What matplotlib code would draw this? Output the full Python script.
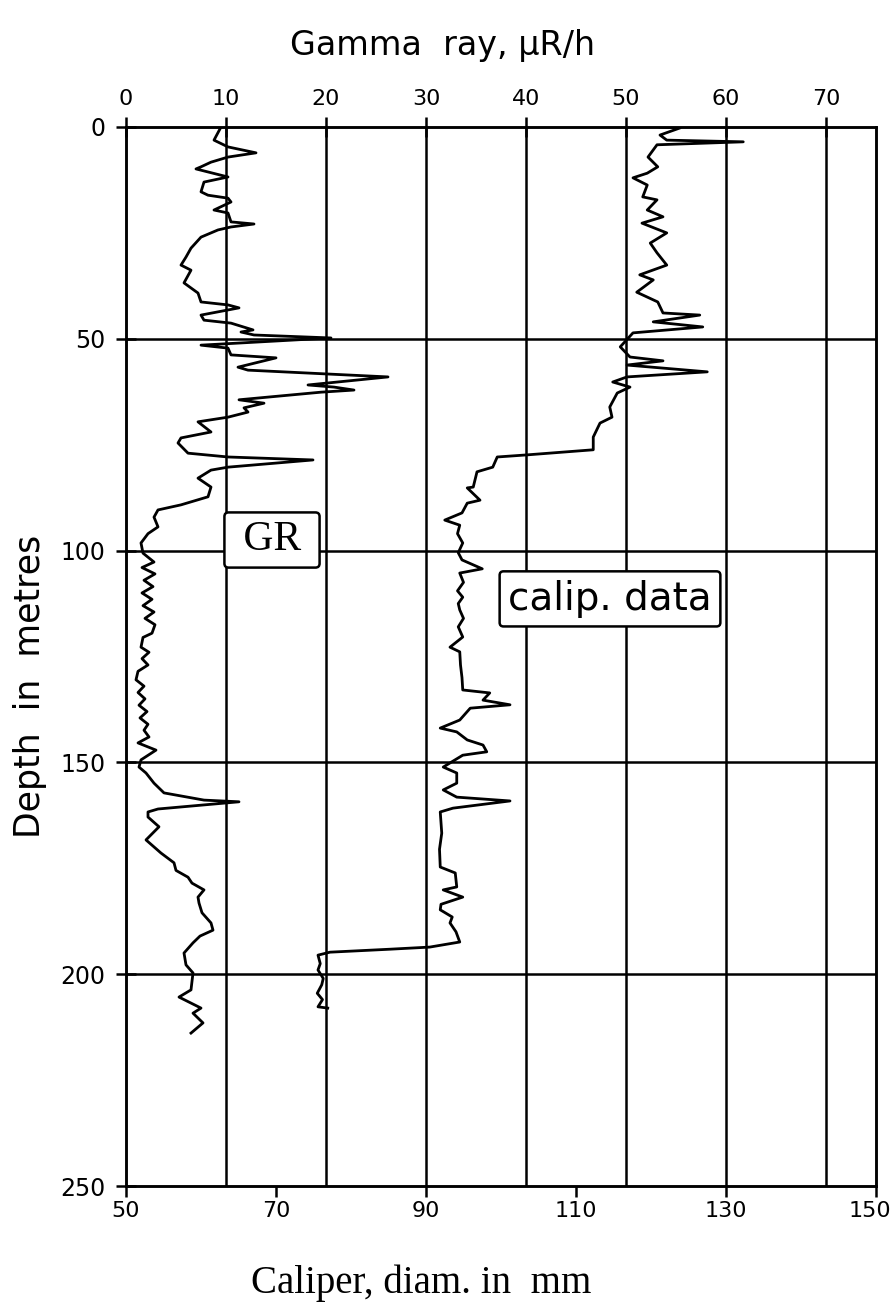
import numpy as np
import matplotlib
matplotlib.use("Agg")
import matplotlib.pyplot as plt
from matplotlib.transforms import ScaledTranslation

# gamma ray log (top axis, uR/h) against depth (m)
gr_depth = [0.0, 3.1, 4.7, 6.1, 7.1, 8.3, 9.4, 9.9, 11.8, 13.0, 15.3, 16.1, 16.8, 17.7,
            19.6, 20.3, 22.4, 22.9, 23.6, 24.3, 26.0, 28.6, 30.7, 32.6, 33.8, 36.8, 38.0,
            39.2, 41.3, 42.0, 42.7, 44.4, 45.6, 46.3, 47.9, 48.4, 49.1, 49.8, 51.5, 52.2,
            53.8, 54.5, 56.7, 57.4, 59.0, 60.9, 61.4, 62.1, 62.6, 64.4, 65.2, 66.3, 67.3,
            68.5, 69.6, 72.0, 73.4, 74.6, 77.0, 77.9, 78.6, 80.3, 81.0, 82.9, 85.0, 87.3,
            89.2, 90.4, 92.1, 94.4, 96.0, 98.2, 100.6, 102.7, 104.0, 105.5, 107.0, 108.5,
            110.0, 111.5, 113.0, 114.5, 116.0, 117.5, 119.5, 120.5, 122.8, 124.0, 125.5,
            127.0, 128.5, 130.5, 132.0, 133.5, 135.0, 136.5, 138.0, 139.5, 141.0, 142.4,
            144.0, 145.4, 147.1, 149.4, 151.1, 152.5, 154.9, 157.2, 158.9, 159.3, 161.0,
            161.7, 162.9, 165.2, 168.3, 171.4, 173.7, 175.5, 177.1, 178.5, 180.1, 181.8,
            183.2, 185.5, 187.9, 189.6, 191.0, 192.6, 195.0, 197.8, 199.7, 203.7, 205.4,
            208.0, 209.2, 211.5, 213.9]
gr_value = [9.5, 8.8, 10.2, 13.0, 10.2, 8.5, 7.5, 7.0, 10.2, 7.8, 7.5, 8.2, 10.2, 10.5,
            8.8, 10.2, 10.5, 12.8, 10.5, 9.2, 7.5, 6.5, 6.0, 5.5, 6.5, 5.8, 6.5,
            7.2, 7.5, 10.2, 11.3, 7.5, 7.8, 10.5, 12.7, 11.5, 12.8, 20.5, 7.5, 10.2,
            10.5, 15.0, 11.2, 12.2, 26.2, 18.2, 20.8, 22.8, 19.5, 11.3, 13.8, 11.8, 12.2,
            10.2, 7.2, 8.5, 5.5, 5.2, 6.2, 10.2, 18.7, 10.2, 8.5, 7.2, 8.5, 8.2,
            5.5, 3.2, 2.8, 3.2, 2.2, 1.5, 1.7, 2.8, 1.6, 2.9, 1.8, 2.7,
            1.6, 2.6, 1.7, 2.8, 1.9, 2.9, 2.6, 1.7, 1.5, 2.3, 1.6,
            2.2, 1.2, 1.0, 1.8, 1.2, 1.9, 1.3, 2.1, 1.4, 2.2, 1.8,
            2.3, 1.2, 3.0, 1.5, 1.3, 2.0, 2.8, 3.8, 7.8, 11.3, 3.2,
            2.2, 2.2, 3.3, 2.0, 3.5, 4.8, 5.0, 6.2, 6.6, 7.8, 7.2,
            7.3, 7.6, 8.5, 8.7, 7.4, 6.7, 5.8, 6.0, 6.7, 6.5, 5.3,
            7.5, 6.7, 7.7, 6.5]

# caliper log (bottom axis, mm) against depth (m)
cal_depth = [0.0, 0.2, 1.9, 3.1, 3.5, 4.2, 7.1, 9.4, 10.9, 12.0, 13.7, 16.5, 17.2, 19.6,
             21.2, 22.7, 25.0, 27.4, 29.7, 32.6, 34.9, 36.1, 39.0, 41.3, 43.9, 44.4, 46.0,
             47.2, 48.6, 51.9, 54.3, 55.2, 56.2, 57.8, 59.0, 60.2, 61.4, 62.8, 66.1, 68.5,
             69.9, 73.2, 76.2, 77.4, 77.9, 80.3, 81.4, 85.0, 85.2, 88.1, 88.8, 91.1, 92.8,
             94.0, 96.0, 98.2, 100.5, 102.2, 104.3, 105.3, 107.5, 109.5, 111.0, 112.5,
             114.0, 116.0, 118.0, 120.4, 122.8, 123.9, 127.0, 130.0, 132.9, 133.6, 135.3,
             136.4, 137.2, 140.0, 141.9, 142.8, 144.7, 145.9, 147.5, 148.3, 151.1, 152.5,
             154.9, 156.5, 158.2, 159.1, 160.8, 161.7, 166.7, 170.5, 174.7, 176.1, 179.4,
             180.1, 181.8, 183.5, 184.8, 186.5, 187.9, 190.0, 192.4, 193.6, 194.1, 194.8,
             195.5, 197.5, 199.0, 201.0, 202.5, 204.5, 206.0, 207.7, 208.0]
cal_value = [121.2, 123.9, 121.2, 122.1, 132.3, 120.8, 119.6, 120.9, 119.5, 117.6, 119.5,
             118.9, 120.8, 119.5, 121.6, 118.8, 122.1, 119.9, 120.8, 122.1, 118.5, 120.3,
             118.1, 120.9, 121.6, 126.5, 120.3, 126.9, 117.6, 115.9, 117.2, 121.6, 116.8,
             127.5, 116.8, 114.9, 117.2, 115.5, 114.5, 114.8, 113.2, 112.3, 112.3, 103.5,
             99.5, 98.9, 96.8, 96.3, 95.5, 97.2, 95.5, 94.8, 92.5, 94.5, 94.2, 94.9, 94.3,
             94.8, 97.5, 94.5, 95.0, 94.2, 94.9, 94.3, 94.5, 95.0, 94.3, 94.9, 93.2, 94.5,
             94.6, 94.8, 94.9, 98.5, 97.6, 101.2, 95.9, 94.5, 91.9, 94.1, 95.5, 97.6, 98.1,
             94.9, 92.3, 94.1, 94.1, 92.3, 94.1, 101.2, 93.6, 91.9, 92.1, 91.8, 91.9, 93.9,
             94.1, 92.3, 94.9, 92.0, 91.9, 93.5, 93.2, 94.0, 94.5, 90.5, 85.2, 77.2,
             75.6, 75.9, 75.6, 76.3, 76.1, 75.5, 76.2, 75.6, 76.9]

depth_ticks = [0, 50, 100, 150, 200, 250]
gamma_ticks = [0, 10, 20, 30, 40, 50, 60, 70]
cal_ticks = [50, 70, 90, 110, 130, 150]

sans = ['DejaVu Sans']
serif = ['Liberation Serif', 'DejaVu Serif']

fig = plt.figure(figsize=(8.96, 13.09), dpi=100)
ax = fig.add_axes([126 / 896, 1 - 1186 / 1309, 750 / 896, 1059 / 1309])
ax.set_xlim(50, 150)
ax.set_ylim(250, 0)

top = ax.twiny()
top.set_xlim(0, 75)

# grid: gamma divisions vertical, depth every 50 m
for g in gamma_ticks[1:]:
    top.axvline(g, color='black', lw=1.8, zorder=1)
for d in depth_ticks[1:-1]:
    ax.axhline(d, color='black', lw=1.8, zorder=1)

top.plot(gr_value, gr_depth, color='black', lw=2.0, zorder=3)
ax.plot(cal_value, cal_depth, color='black', lw=2.0, zorder=3)

for a in (ax, top):
    for s in a.spines.values():
        s.set_linewidth(1.8)

ax.set_yticks(depth_ticks)
ax.set_yticklabels([str(d) for d in depth_ticks], family=sans, fontsize=17)
ax.set_xticks(cal_ticks)
ax.set_xticklabels([str(c) for c in cal_ticks], family=sans, fontsize=16)
top.set_xticks(gamma_ticks)
top.set_xticklabels([str(g) for g in gamma_ticks], family=sans, fontsize=16)
ax.tick_params(axis='y', direction='inout', length=14, width=1.8, pad=8)
ax.tick_params(axis='x', direction='out', length=8, width=1.8, pad=3)
top.tick_params(axis='x', direction='inout', length=14, width=1.8, pad=6)

# keep the last caliper label inside the figure
last = ax.get_xticklabels()[-1]
last.set_transform(last.get_transform() + ScaledTranslation(-6 / 100, 0, fig.dpi_scale_trans))

bbox_gr = dict(boxstyle='round,pad=0.2,rounding_size=0.1', fc='white', ec='black', lw=1.8)
bbox_cal = dict(boxstyle='round,pad=0.22,rounding_size=0.1', fc='white', ec='black', lw=1.8)
top.text(14.6, 97.5, ' GR ', family=serif, fontsize=30, ha='center', va='center',
         bbox=bbox_gr, zorder=5)
top.text(48.4, 111.4, 'calip. data', family=sans, fontsize=28, ha='center', va='center',
         bbox=bbox_cal, zorder=5)

fig.text(443 / 896, 1 - 45 / 1309, 'Gamma  ray, μR/h', family=sans, fontsize=24,
         ha='center', va='center')
fig.text(421 / 896, 1 - 1283 / 1309, 'Caliper, diam. in  mm', family=serif, fontsize=28,
         ha='center', va='center')
fig.text(30 / 896, 1 - 686 / 1309, 'Depth  in  metres', family=sans, fontsize=25,
         ha='center', va='center', rotation=90)

fig.savefig('out.png', dpi=100, facecolor='white')
